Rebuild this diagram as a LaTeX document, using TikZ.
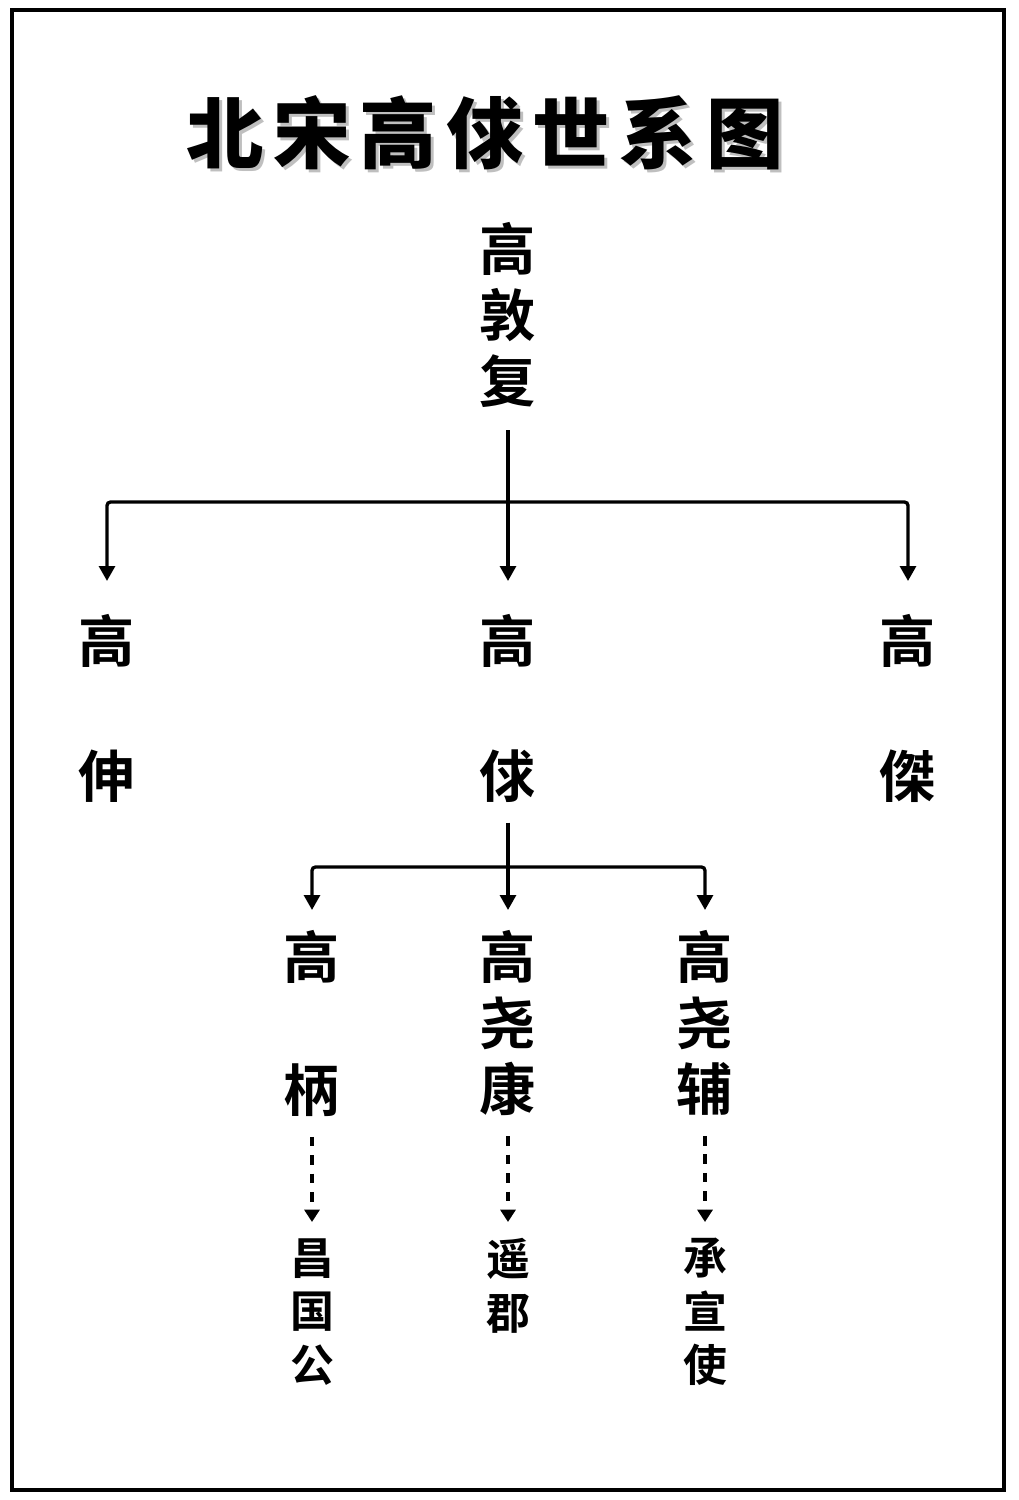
\documentclass[tikz,border=0pt]{standalone}
\usepackage{fontspec}
\usetikzlibrary{arrows.meta}
\newfontfamily\cjkb{Noto Sans CJK SC Bold}
\newfontfamily\cjkt{Noto Sans CJK SC Black}[LetterSpace=12]
\newcommand\titlefont{\cjkt\fontsize{44}{50}\selectfont}
\newcommand\namefont{\cjkb\fontsize{32}{37.6}\selectfont}
\newcommand\postfont{\cjkb\fontsize{25}{30.5}\selectfont}
\tikzset{
  person/.style={font=\namefont, align=center, inner sep=0pt, anchor=north},
  post/.style={font=\postfont, align=center, inner sep=0pt, anchor=north},
  link/.style={line width=1.9pt, -{Triangle[width=9pt,length=8.5pt]}, rounded corners=2pt},
  hint/.style={line width=1.9pt, dash pattern=on 5.5pt off 5pt, -{Triangle[width=8.5pt,length=7pt]}}
}
\begin{document}
\begin{tikzpicture}[x=0.02cm, y=-0.02cm]
      \useasboundingbox (0,0) rectangle (1018,1500);
      \draw[line width=2.8pt] (12,10) rectangle (1004,1490);
      \draw
        (488,136) node[font=\titlefont, text=black!25] (shadow){北宋高俅世系图}
        (485,133) node[font=\titlefont] (title){北宋高俅世系图}
        (508,222) node[person] (dunfu){高\\敦\\复}
        (107,614) node[person] (shen){高\\[39pt]伸}
        (508,614) node[person] (qiu){高\\[39pt]俅}
        (908,614) node[person] (jie){高\\[39pt]傑}
        (312,930) node[person] (bing){高\\[38pt]柄}
        (508,930) node[person] (yaokang){高\\尧\\康}
        (705,930) node[person] (yaofu){高\\尧\\辅}
        (312,1238) node[post] (changguo){昌\\国\\公}
        (508,1238) node[post] (yaojun){遥\\郡}
        (705,1238) node[post] (chengxuan){承\\宣\\使};
      \coordinate (j1) at (508,502);
      \coordinate (j2) at (508,867);
      \begin{scope}[link, shorten >=0.66cm]
        \draw[shorten <=0.44cm] (dunfu) to (qiu);
        \draw (j1) -| (shen);
        \draw (j1) -| (jie);
      \end{scope}
      \begin{scope}[link, shorten >=0.4cm]
        \draw[shorten <=0.4cm] (qiu) to (yaokang);
        \draw (j2) -| (bing);
        \draw (j2) -| (yaofu);
      \end{scope}
      \begin{scope}[hint, shorten <=0.4cm, shorten >=0.32cm]
        \draw (bing) to (changguo);
        \draw (yaokang) to (yaojun);
        \draw (yaofu) to (chengxuan);
      \end{scope}
    \end{tikzpicture}
\end{document}
